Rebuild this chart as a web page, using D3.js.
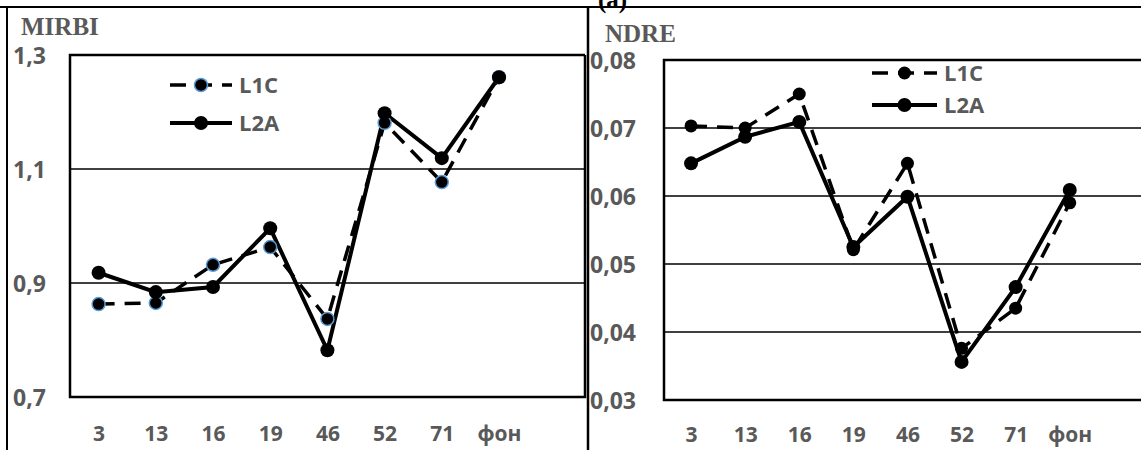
<!DOCTYPE html>
<html>
<head>
<meta charset="utf-8">
<script src="https://cdn.jsdelivr.net/npm/d3@7"></script>
<style>
  body { margin: 0; background: #fff; }
  svg { display: block; }
  .tick-lbl { font-family: "Open Sans", sans-serif; font-weight: bold; font-size: 21px; fill: #595959; }
  .y-lbl { font-size: 23px; }
  .leg-lbl { font-size: 22px; }
  .title { font-family: "Liberation Serif", "Times New Roman", serif; font-weight: bold; font-size: 25px; fill: #595959; }
</style>
</head>
<body>
<svg id="chart" width="1141" height="450"></svg>
<script>
// categories (plots / background)
const categories = ["3", "13", "16", "19", "46", "52", "71", "фон"];

// MIRBI values
const mirbiL1C = [0.863, 0.865, 0.932, 0.963, 0.837, 1.181, 1.077, 1.261];
const mirbiL2A = [0.918, 0.884, 0.893, 0.996, 0.782, 1.198, 1.119, 1.261];
const mirbiTicks = [0.7, 0.9, 1.1, 1.3];

// NDRE values
const ndreL1C = [0.0703, 0.0700, 0.0750, 0.0521, 0.0648, 0.0376, 0.0435, 0.0590];
const ndreL2A = [0.0648, 0.0687, 0.0709, 0.0525, 0.0599, 0.0356, 0.0466, 0.0609];
const ndreTicks = [0.03, 0.04, 0.05, 0.06, 0.07, 0.08];

const seriesNames = ["L1C", "L2A"];

const svg = d3.select("#chart");
const comma = v => String(+v.toFixed(2)).replace(".", ",");

// outer frame lines
svg.append("line").attr("x1", 0).attr("x2", 1141).attr("y1", 7).attr("y2", 7)
    .attr("stroke", "#000").attr("stroke-width", 2);
svg.append("line").attr("x1", 7).attr("x2", 7).attr("y1", 7).attr("y2", 450)
    .attr("stroke", "#000").attr("stroke-width", 2);
svg.append("line").attr("x1", 588).attr("x2", 588).attr("y1", 7).attr("y2", 450)
    .attr("stroke", "#000").attr("stroke-width", 2.5);

// panel letter, cut by the top edge as in the source figure
svg.append("text").attr("class", "title").attr("x", 598).attr("y", 8)
    .style("fill", "#000").text("(a)");

function drawPanel(opt) {
    const g = svg.append("g");

    const x = d3.scalePoint()
        .domain(categories)
        .range([opt.left, opt.left + opt.step * 8])
        .padding(0.5);
    const y = d3.scaleLinear()
        .domain(opt.domain)
        .range([opt.bottom, opt.top]);

    // gridlines
    g.selectAll(".grid")
        .data(opt.ticks.slice(1, -1))
        .join("line")
        .attr("x1", opt.left).attr("x2", opt.right)
        .attr("y1", d => y(d)).attr("y2", d => y(d))
        .attr("stroke", "#000").attr("stroke-width", 1.5);

    // plot box
    g.append("path")
        .attr("d", `M${opt.right},${opt.top}H${opt.left}V${opt.bottom}H${opt.right}` + (opt.closeRight ? `V${opt.top}` : ""))
        .attr("fill", "none").attr("stroke", "#000").attr("stroke-width", 2.5);

    // y axis labels
    const ya = g.append("g")
        .attr("transform", `translate(${opt.left},0)`)
        .call(d3.axisLeft(y).tickValues(opt.ticks).tickSize(0).tickFormat(comma));
    ya.select(".domain").remove();
    ya.selectAll("text")
        .attr("class", "tick-lbl y-lbl")
        .attr("text-anchor", "start")
        .attr("x", opt.labelX - opt.left)
        .attr("dy", "0.36em");

    // x axis labels
    const xa = g.append("g")
        .attr("transform", `translate(0,${opt.bottom})`)
        .call(d3.axisBottom(x).tickSize(0));
    xa.select(".domain").remove();
    xa.selectAll("text")
        .attr("class", "tick-lbl")
        .attr("y", opt.xLabelDy)
        .attr("dy", "0.36em");

    // title
    g.append("text").attr("class", "title")
        .attr("x", opt.titleX).attr("y", opt.titleY).text(opt.title);

    const line = d3.line()
        .x((d, i) => x(categories[i]))
        .y(d => y(d));

    // L1C dashed
    g.append("path")
        .datum(opt.l1c)
        .attr("d", line)
        .attr("fill", "none").attr("stroke", "#000")
        .attr("stroke-width", 3.5).attr("stroke-dasharray", "16,10");
    // L2A solid
    g.append("path")
        .datum(opt.l2a)
        .attr("d", line)
        .attr("fill", "none").attr("stroke", "#000")
        .attr("stroke-width", 4);

    g.selectAll(".m1c")
        .data(opt.l1c)
        .join("circle")
        .attr("cx", (d, i) => x(categories[i]))
        .attr("cy", d => y(d))
        .attr("r", 6.5)
        .attr("fill", "#000")
        .attr("stroke", opt.blueRing ? "#5B9BD5" : "none")
        .attr("stroke-width", 1.5);
    g.selectAll(".m2a")
        .data(opt.l2a)
        .join("circle")
        .attr("cx", (d, i) => x(categories[i]))
        .attr("cy", d => y(d))
        .attr("r", 7)
        .attr("fill", "#000");

    // legend
    const lg = g.append("g").attr("transform", `translate(${opt.legX},${opt.legY})`);
    seriesNames.forEach((name, i) => {
        const row = lg.append("g").attr("transform", `translate(0,${i * opt.legGap})`);
        row.append("line")
            .attr("x1", 0).attr("x2", opt.legW).attr("y1", 0).attr("y2", 0)
            .attr("stroke", "#000")
            .attr("stroke-width", i === 0 ? 3.5 : 4)
            .attr("stroke-dasharray", i === 0 ? "16,10" : null);
        row.append("circle")
            .attr("cx", opt.legW / 2).attr("cy", 0)
            .attr("r", i === 0 ? 6.5 : 7)
            .attr("fill", "#000")
            .attr("stroke", i === 0 && opt.blueRing ? "#5B9BD5" : "none")
            .attr("stroke-width", 1.5);
        row.append("text").attr("class", "tick-lbl leg-lbl")
            .attr("x", opt.legW + 7).attr("y", 0).attr("dy", "0.36em")
            .text(name);
    });
}

drawPanel({
    title: "MIRBI", titleX: 21, titleY: 35,
    left: 70, right: 585, top: 55, bottom: 397, step: 57.2, closeRight: true,
    domain: [0.7, 1.3], ticks: mirbiTicks, labelX: 13, xLabelDy: 36,
    l1c: mirbiL1C, l2a: mirbiL2A, blueRing: true,
    legX: 170, legY: 85, legW: 62, legGap: 38
});

drawPanel({
    title: "NDRE", titleX: 605, titleY: 42,
    left: 664, right: 1141, top: 60, bottom: 400, step: 54.1, closeRight: false,
    domain: [0.03, 0.08], ticks: ndreTicks, labelX: 590, xLabelDy: 34,
    l1c: ndreL1C, l2a: ndreL2A, blueRing: false,
    legX: 872, legY: 73, legW: 65, legGap: 32
});
</script>
</body>
</html>
